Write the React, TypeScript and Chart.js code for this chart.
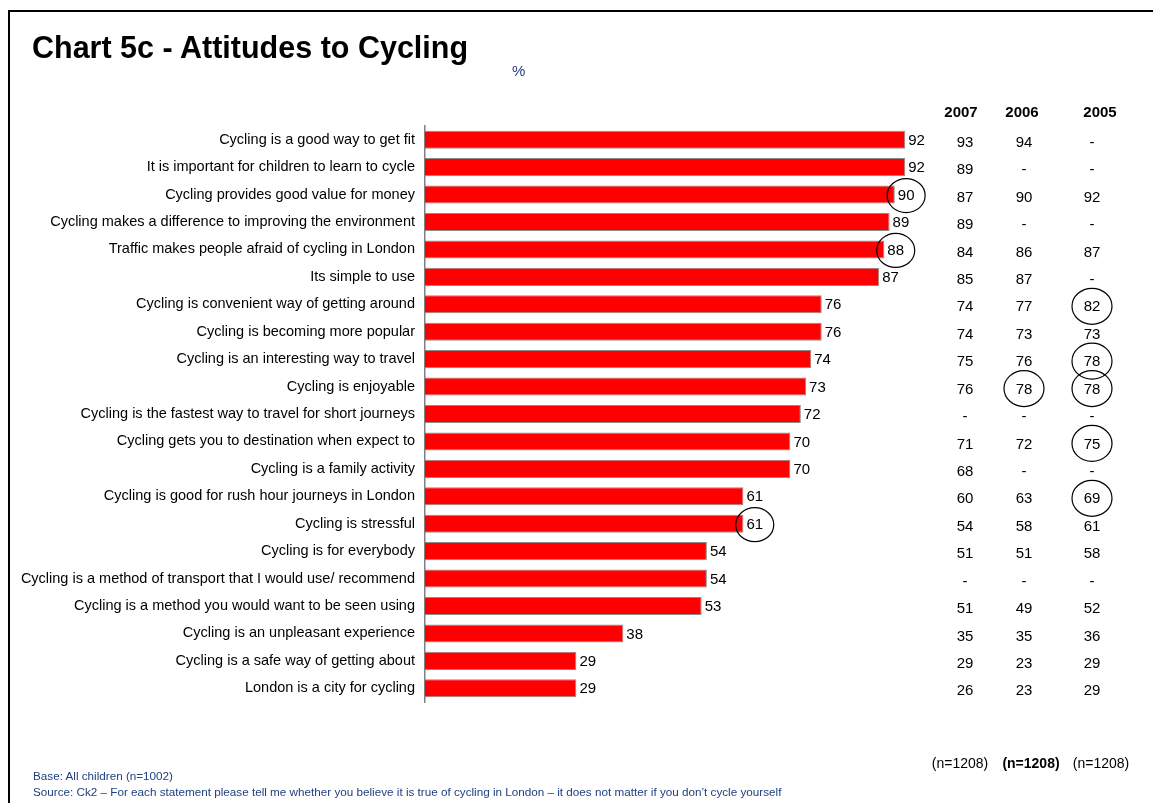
import React, { useEffect, useRef } from "react";
import { Chart, registerables } from "chart.js";

Chart.register(...registerables);

const FONT = "'Liberation Sans', Arial, sans-serif";

const categories = [
  "Cycling is a good way to get fit",
  "It is important for children to learn to cycle",
  "Cycling provides good value for money",
  "Cycling makes a difference to improving the environment",
  "Traffic makes people afraid of cycling in London",
  "Its simple to use",
  "Cycling is convenient way of getting around",
  "Cycling is becoming more popular",
  "Cycling is an interesting way to travel",
  "Cycling is enjoyable",
  "Cycling is the fastest way to travel for short journeys",
  "Cycling gets you to destination when expect to",
  "Cycling is a family activity",
  "Cycling is good for rush hour journeys in London",
  "Cycling is stressful",
  "Cycling is for everybody",
  "Cycling is a method of transport that I would use/ recommend",
  "Cycling is a method you would want to be seen using",
  "Cycling is an unpleasant experience",
  "Cycling is a safe way of getting about",
  "London is a city for cycling",
];

const currentValues = [92, 92, 90, 89, 88, 87, 76, 76, 74, 73, 72, 70, 70, 61, 61, 54, 54, 53, 38, 29, 29];

const values2007 = ["93", "89", "87", "89", "84", "85", "74", "74", "75", "76", "-", "71", "68", "60", "54", "51", "-", "51", "35", "29", "26"];
const values2006 = ["94", "-", "90", "-", "86", "87", "77", "73", "76", "78", "-", "72", "-", "63", "58", "51", "-", "49", "35", "23", "23"];
const values2005 = ["-", "-", "92", "-", "87", "-", "82", "73", "78", "78", "-", "75", "-", "69", "61", "58", "-", "52", "36", "29", "29"];

const circledBars = [2, 4, 14];
const circled2006 = [9];
const circled2005 = [6, 8, 9, 11, 13];

const yearHeaders = ["2007", "2006", "2005"];
const sampleSizes = ["(n=1208)", "(n=1208)", "(n=1208)"];

const titleText = "Chart 5c - Attitudes to Cycling";
const baseText = "Base: All children (n=1002)";
const sourceText =
  "Source: Ck2 \u2013 For each statement please tell me whether you believe it is true of cycling in London \u2013 it does not matter if you don\u2019t cycle yourself";

const columnX = [965, 1024, 1092];

export default function App() {
  const canvasRef = useRef<HTMLCanvasElement | null>(null);

  useEffect(() => {
    const canvas = canvasRef.current;
    if (!canvas) return;

    const annotations = {
      id: "annotations",
      afterDatasetsDraw(chart: any) {
        const ctx = chart.ctx;
        const meta = chart.getDatasetMeta(0);
        const yScale = chart.scales.y;
        ctx.save();
        ctx.fillStyle = "#000";
        ctx.strokeStyle = "#000";
        ctx.textBaseline = "middle";
        // bar value labels
        ctx.font = `15px ${FONT}`;
        ctx.textAlign = "left";
        meta.data.forEach((bar: any, i: number) => {
          const txt = String(currentValues[i]);
          const x = bar.x + 3;
          const y = bar.y + 1;
          ctx.fillText(txt, x, y);
          if (circledBars.includes(i)) {
            const w = ctx.measureText(txt).width;
            ctx.beginPath();
            ctx.lineWidth = 1.2;
            ctx.ellipse(x + w / 2, y, 19, 17, 0, 0, Math.PI * 2);
            ctx.stroke();
          }
        });
        // year columns
        ctx.font = `15px ${FONT}`;
        ctx.textAlign = "center";
        const cols = [values2007, values2006, values2005];
        const circ = [[], circled2006, circled2005];
        cols.forEach((col, c) => {
          col.forEach((v, i) => {
            const y = yScale.getPixelForValue(i) + 3;
            ctx.fillText(v, columnX[c], y);
            if ((circ[c] as number[]).includes(i)) {
              ctx.beginPath();
              ctx.lineWidth = 1.2;
              ctx.ellipse(columnX[c], y - 1, 20, 18, 0, 0, Math.PI * 2);
              ctx.stroke();
            }
          });
        });
        ctx.restore();
      },
    };

    const chart = new Chart(canvas, {
      type: "bar",
      data: {
        labels: categories,
        datasets: [
          {
            label: "2008",
            data: currentValues,
            backgroundColor: "#ff0000",
            borderColor: "#8c8c8c",
            borderWidth: 1,
            barPercentage: 0.66,
            categoryPercentage: 1,
          },
        ],
      },
      options: {
        indexAxis: "y",
        responsive: false,
        animation: false,
        layout: { padding: { left: 0, top: 126, bottom: 101, right: 206 } },
        plugins: {
          legend: { display: false },
          tooltip: { enabled: false },
          title: { display: false },
        },
        scales: {
          x: { display: false, min: 0, max: 100 },
          y: {
            type: "category",
            grid: { display: false, drawTicks: false },
            border: { display: true, color: "#808080", width: 1.5 },
            ticks: {
              color: "#000",
              padding: 10,
              font: { family: FONT, size: 14.5 },
              autoSkip: false,
            },
            afterFit: (scale: any) => {
              scale.width = 425;
            },
          },
        },
      },
      plugins: [annotations],
    });

    return () => chart.destroy();
  }, []);

  const abs = (style: React.CSSProperties): React.CSSProperties => ({ position: "absolute", whiteSpace: "nowrap", ...style });

  return (
    <div style={{ position: "relative", width: 1153, height: 803, background: "#fff", fontFamily: FONT, overflow: "hidden" }}>
      <style>{`body{margin:0}`}</style>
      <canvas ref={canvasRef} width={1153} height={803} style={{ position: "absolute", left: 0, top: 0 }} />
      <div style={abs({ left: 9, top: 10, width: 1144, height: 2, background: "#000" })} />
      <div style={abs({ left: 8, top: 10, width: 2, height: 793, background: "#000" })} />
      <div style={abs({ left: 32, top: 30, fontSize: 30.5, fontWeight: "bold", color: "#000", lineHeight: "34px" })}>{titleText}</div>
      <div style={abs({ left: 512, top: 63, fontSize: 15, color: "#1f3f7f", lineHeight: "16px" })}>%</div>
      {yearHeaders.map((h, i) => (
        <div key={h} style={abs({ left: [961, 1022, 1100][i] - 30, width: 60, textAlign: "center", top: 103, fontSize: 15, fontWeight: "bold", lineHeight: "18px" })}>{h}</div>
      ))}
      {sampleSizes.map((s, i) => (
        <div key={i} style={abs({ left: [960, 1031, 1101][i] - 40, width: 80, textAlign: "center", top: 754, fontSize: 14, fontWeight: i === 1 ? "bold" : "normal", lineHeight: "18px", color: "#000" })}>{s}</div>
      ))}
      <div style={abs({ left: 33, top: 768, fontSize: 11.7, color: "#1f3f7f", lineHeight: "15px" })}>{baseText}</div>
      <div style={abs({ left: 33, top: 784, fontSize: 11.7, color: "#1f3f7f", lineHeight: "15px" })}>{sourceText}</div>
    </div>
  );
}
